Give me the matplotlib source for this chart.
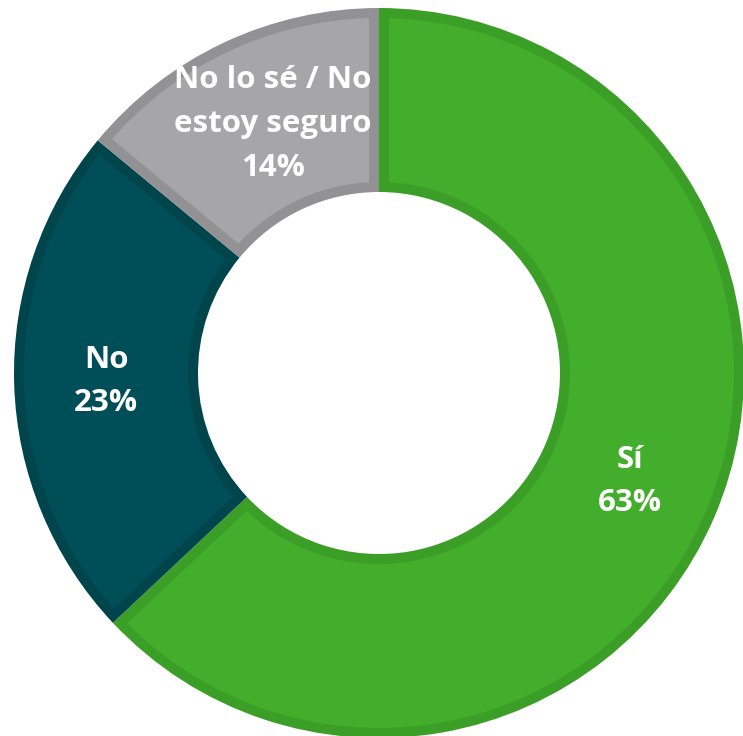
import matplotlib
matplotlib.use('Agg')
from matplotlib import pyplot as plt
from matplotlib.patches import Polygon
import numpy as np

categories = ['Sí', 'No', 'No lo sé / No\nestoy seguro']
values = [63, 23, 14]
fills = ['#43AE2B', '#004F58', '#A6A6A8']
edges = ['#3B9F27', '#00444C', '#929294']

W, H = 743, 736
fig = plt.figure(figsize=(W/100, H/100), dpi=100)
ax = fig.add_axes([0, 0, 1, 1])

cx, cy = 379, H-373
r_out, r_in = 365, 181
bw = 10  # border width in px (axes units == pixels here)

# dark wedges first, they make the border
wedges, _ = ax.pie(values, colors=edges, startangle=90, counterclock=False,
                   center=(cx, cy), radius=r_out, frame=True,
                   wedgeprops=dict(width=r_out-r_in, linewidth=0))
ax.set_xlim(0, W); ax.set_ylim(0, H); ax.axis('off')
ax.set_aspect('equal')

def inset_sector(t1, t2, ro, ri, d):
    # annular sector shrunk by d on every side
    ro2, ri2 = ro-d, ri+d
    a1o, a2o = t1+np.degrees(np.arcsin(d/ro2)), t2-np.degrees(np.arcsin(d/ro2))
    a1i, a2i = t1+np.degrees(np.arcsin(d/ri2)), t2-np.degrees(np.arcsin(d/ri2))
    to = np.radians(np.linspace(a1o, a2o, 200))
    ti = np.radians(np.linspace(a2i, a1i, 200))
    xs = np.r_[cx+ro2*np.cos(to), cx+ri2*np.cos(ti)]
    ys = np.r_[cy+ro2*np.sin(to), cy+ri2*np.sin(ti)]
    return np.c_[xs, ys]

for w, fc in zip(wedges, fills):
    ax.add_patch(Polygon(inset_sector(w.theta1, w.theta2, r_out, r_in, bw),
                         closed=True, facecolor=fc, linewidth=0))

# the long label sits a bit right of the wedge middle
nudge = {2: (10, 2)}
r_lab = (r_out+r_in)/2
for i, (w, cat, v) in enumerate(zip(wedges, categories, values)):
    mid = np.deg2rad((w.theta1+w.theta2)/2)
    dx, dy = nudge.get(i, (0, 0))
    ax.text(cx+r_lab*np.cos(mid)+dx, cy+r_lab*np.sin(mid)+dy, '%s\n%d%%' % (cat, v),
            ha='center', va='center', color='white', fontsize=22.5,
            fontweight='bold', family='Open Sans', linespacing=1.6)

fig.savefig('out.png', dpi=100)
